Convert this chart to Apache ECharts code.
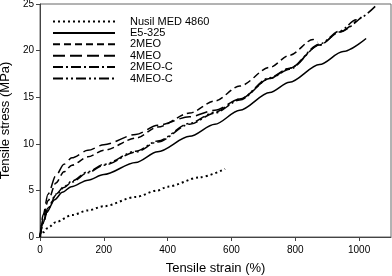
<!DOCTYPE html>
<html><head><meta charset="utf-8">
<script src="https://cdn.jsdelivr.net/npm/echarts@6/dist/echarts.min.js"></script>
<style>html,body{margin:0;padding:0;background:#fff}#c{width:392px;height:276px}</style>
</head><body><div id="c"></div>
<script>
const seriesNames = ['Nusil MED 4860', 'E5-325', '2MEO', '4MEO', '2MEO-C', '4MEO-C'];
const nusilX = [0, 10, 25, 50, 100, 150, 200, 300, 369, 400, 500, 580];
const nusilY = [0, 0.5, 1.0, 1.6, 2.35, 2.85, 3.3, 4.3, 5.0, 5.4, 6.4, 7.3];
const e5X = [0, 10, 20, 46, 70, 98, 150, 200, 300, 369, 469, 548, 626, 720, 782, 876, 950, 1022];
const e5Y = [0, 1.5, 2.6, 4.0, 4.8, 5.4, 6.1, 6.7, 8.0, 9.15, 10.8, 12.1, 13.6, 15.5, 16.6, 18.5, 19.9, 21.3];
const meo2X = [0, 10, 25, 50, 75, 100, 150, 200, 300, 369, 469, 548, 626, 720, 782, 856, 870];
const meo2Y = [0, 2.0, 3.9, 5.8, 7.0, 7.7, 8.6, 9.3, 10.6, 11.8, 13.3, 14.6, 16.2, 18.2, 19.5, 21.2, 20.9];
const meo4X = [0, 10, 25, 50, 75, 100, 150, 200, 300, 369, 469, 548, 626, 720, 782, 876, 939, 991];
const meo4Y = [0, 2.4, 4.6, 6.6, 7.8, 8.5, 9.3, 9.9, 11.0, 12.0, 12.9, 13.6, 14.8, 17.0, 18.1, 20.6, 22.0, 23.2];
const meo2cX = [0, 10, 25, 50, 75, 100, 150, 200, 300, 369, 469, 548, 626, 720, 782, 876, 939, 1010];
const meo2cY = [0, 1.5, 3.0, 4.5, 5.3, 5.9, 6.9, 7.7, 9.1, 10.2, 12.1, 13.3, 14.7, 17.0, 18.0, 20.6, 22.0, 23.7];
const meo4cX = [0, 10, 25, 50, 75, 100, 150, 200, 300, 369, 469, 548, 626, 720, 782, 876, 939, 991, 1052];
const meo4cY = [0, 1.6, 3.1, 4.6, 5.4, 6.0, 7.0, 7.8, 9.2, 10.3, 12.2, 13.4, 14.8, 17.1, 18.1, 20.7, 22.1, 23.3, 24.8];
const xTicks = [0, 200, 400, 600, 800, 1000];
const yTicks = [0, 5, 10, 15, 20, 25];

const zip = (xs, ys) => xs.map((x, i) => [x, ys[i]]);
const font = 'Liberation Sans, Arial, sans-serif';
const mk = (name, xs, ys, type, width) => ({
  name, type: 'line', data: zip(xs, ys), symbol: 'none', smooth: 0.3, smoothMonotone: 'x',
  lineStyle: { color: '#000', width, type }, itemStyle: { color: '#000' }, z: 3
});
const chart = echarts.init(document.getElementById('c'), null, { renderer: 'canvas' });
chart.setOption({
  animation: false,
  backgroundColor: '#fff',
  grid: { left: 40, right: 1, top: 4, bottom: 39, show: true, borderColor: '#666', borderWidth: 1,
          containLabel: false, outerBoundsMode: 'none' },
  legend: {
    orient: 'vertical', left: 52, top: 16, itemWidth: 62, itemHeight: 12, itemGap: 0.4,
    padding: 0,
    itemStyle: { opacity: 0 },
    textStyle: { fontFamily: font, fontSize: 11, color: '#000', padding: [0, 0, 0, 10] },
    data: seriesNames
  },
  xAxis: {
    type: 'value', min: 0, max: 1100, interval: 100,
    name: 'Tensile strain (%)', nameLocation: 'middle', nameGap: 25,
    nameTextStyle: { fontFamily: font, fontSize: 13, color: '#000' },
    axisLine: { show: true, lineStyle: { color: '#444', width: 1 } },
    axisTick: { show: true, inside: false, length: 4, lineStyle: { color: '#444' }, customValues: xTicks },
    axisLabel: { fontFamily: font, fontSize: 10, color: '#000', margin: 8, customValues: xTicks, formatter: v => String(v) },
    splitLine: { show: false }
  },
  yAxis: {
    type: 'value', min: 0, max: 25, interval: 5,
    name: 'Tensile stress (MPa)', nameLocation: 'middle', nameGap: 22, nameRotate: 90,
    nameTextStyle: { fontFamily: font, fontSize: 13, color: '#000' },
    axisLine: { show: true, lineStyle: { color: '#444', width: 1 } },
    axisTick: { show: true, inside: false, length: 4, lineStyle: { color: '#444' }, customValues: yTicks },
    axisLabel: { fontFamily: font, fontSize: 10, color: '#000', margin: 6, customValues: yTicks, formatter: v => String(v) },
    splitLine: { show: false }
  },
  series: [
    mk(seriesNames[0], nusilX, nusilY, [2, 3], 2),
    mk(seriesNames[1], e5X, e5Y, 'solid', 1.5),
    mk(seriesNames[2], meo2X, meo2Y, [7, 4], 1.5),
    mk(seriesNames[3], meo4X, meo4Y, [12, 5], 1.5),
    mk(seriesNames[4], meo2cX, meo2cY, [10, 3, 2, 3], 1.5),
    mk(seriesNames[5], meo4cX, meo4cY, [10, 3, 2, 3, 2, 3], 1.5)
  ]
});
</script></body></html>
